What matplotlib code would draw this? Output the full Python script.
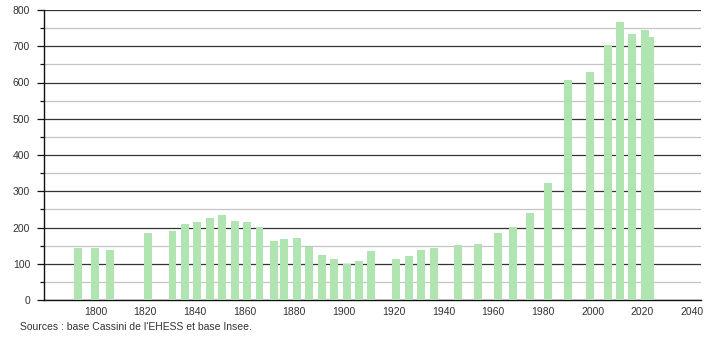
import matplotlib
matplotlib.use("Agg")
import matplotlib.pyplot as plt
from matplotlib.ticker import MultipleLocator

years = [1793, 1800, 1806, 1821, 1831, 1836, 1841, 1846, 1851, 1856, 1861, 1866,
         1872, 1876, 1881, 1886, 1891, 1896, 1901, 1906, 1911, 1921, 1926, 1931,
         1936, 1946, 1954, 1962, 1968, 1975, 1982, 1990, 1999, 2006, 2011, 2016,
         2021, 2023]
population = [144, 144, 139, 186, 191, 210, 216, 227, 234, 219, 216, 201,
              164, 167, 171, 147, 125, 113, 99, 108, 135, 113, 122, 138,
              143, 152, 154, 186, 201, 240, 323, 607, 630, 703, 767, 734,
              745, 725]
x_ticks = [1800, 1820, 1840, 1860, 1880, 1900, 1920, 1940, 1960, 1980, 2000, 2020, 2040]
source_text = "Sources : base Cassini de l'EHESS et base Insee."

plt.rcParams['font.family'] = ['Liberation Sans', 'DejaVu Sans']

fig = plt.figure(figsize=(7.1, 3.4), dpi=100)
ax = fig.add_axes([44/710, 40/340, (701-44)/710, 290/340])

ax.bar(years, population, width=3.2, color='#b0e4b0', zorder=3, linewidth=0)

ax.set_xlim(1779.3, 2043.6)
ax.set_ylim(0, 800)
ax.yaxis.set_major_locator(MultipleLocator(100))
ax.yaxis.set_minor_locator(MultipleLocator(50))
ax.set_xticks(x_ticks)
ax.grid(axis='y', which='major', color='#333333', linewidth=0.9, zorder=1)
ax.grid(axis='y', which='minor', color='#c4c4c4', linewidth=0.9, zorder=1)
ax.grid(axis='x', visible=False)

for s in ['top', 'right']:
    ax.spines[s].set_visible(False)
for s in ['left', 'bottom']:
    ax.spines[s].set_color('#111111')
    ax.spines[s].set_linewidth(1.0)

ax.tick_params(axis='y', which='major', length=5, width=0.9, color='#111111',
               labelsize=7.5, labelcolor='#333333', pad=5)
ax.tick_params(axis='y', which='minor', length=3, width=0.9, color='#111111')
ax.tick_params(axis='x', which='both', length=0, labelsize=7.5,
               labelcolor='#333333', pad=5)

fig.text(20/710, 1 - 327/340, source_text, fontsize=7.5, color='#333333',
         va='center', ha='left')

fig.savefig('out.png', dpi=100)
